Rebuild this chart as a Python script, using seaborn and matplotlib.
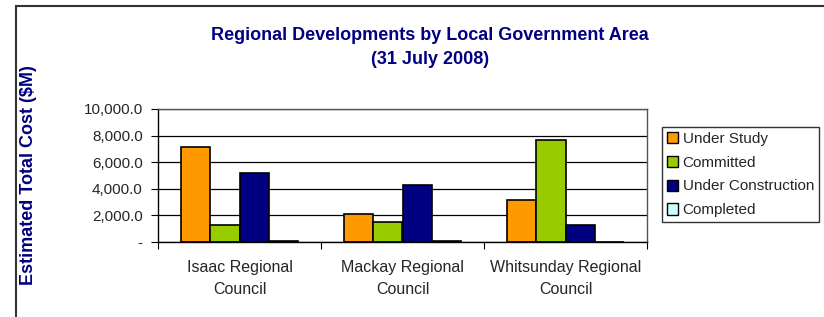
import pandas as pd
import numpy as np
import matplotlib
matplotlib.use('Agg')
import matplotlib.pyplot as plt
import seaborn as sns
from matplotlib.patches import Rectangle
from matplotlib.ticker import FuncFormatter

# data ($M)
councils = ['Isaac Regional\nCouncil', 'Mackay Regional\nCouncil', 'Whitsunday Regional\nCouncil']
statuses = ['Under Study', 'Committed', 'Under Construction', 'Completed']
under_study = [7150, 2070, 3130]
committed = [1250, 1520, 7680]
under_construction = [5180, 4260, 1270]
completed = [100, 50, 30]
colours = ['#FF9900', '#99CC00', '#000080', '#CCFFFF']

navy = '#000080'

rows = []
for status, vals in zip(statuses, [under_study, committed, under_construction, completed]):
    for council, v in zip(councils, vals):
        rows.append({'Council': council, 'Status': status, 'Cost': v})
df = pd.DataFrame(rows)

sns.set_style('white')
plt.rcParams['font.family'] = ['Liberation Sans', 'DejaVu Sans']

fig = plt.figure(figsize=(8.24, 3.17), dpi=100)
ax = fig.add_axes([158 / 824, 1 - 242 / 317, (647 - 158) / 824, (242 - 109) / 317])

sns.barplot(data=df, x='Council', y='Cost', hue='Status', hue_order=statuses,
            order=councils, palette=colours, width=0.72, gap=0,
            edgecolor='black', linewidth=1.2, saturation=1, ax=ax, legend=True)

ax.set_ylim(0, 10000)
ax.set_yticks(np.arange(0, 10001, 2000))
ax.yaxis.set_major_formatter(FuncFormatter(lambda v, p: '-' if v == 0 else f'{v:,.1f}'))
ax.yaxis.grid(True, color='black', linewidth=0.9)
ax.set_axisbelow(True)
for s in ax.spines.values():
    s.set_visible(True)
    s.set_color('#555555')
    s.set_linewidth(1)
ax.spines['left'].set_color('black')
ax.spines['bottom'].set_color('black')

# category ticks at boundaries
ax.set_xticks([-0.5, 0.5, 1.5, 2.5], minor=False)
ax.set_xticklabels([])
ax.set_xticks([0, 1, 2], minor=True)
ax.set_xticklabels(councils, minor=True, fontsize=11.5, linespacing=1.55)
ax.tick_params(axis='x', which='major', length=5, direction='out', bottom=True, color='black')
ax.tick_params(axis='x', which='minor', length=0, pad=13)
ax.tick_params(axis='y', length=5, direction='out', left=True, labelsize=11, color='black', pad=6)
ax.set_xlim(-0.5, 2.5)
ax.set_xlabel('')
ax.set_ylabel('')

ax.get_legend().remove()
handles = [Rectangle((0, 0), 1, 1, facecolor=c, edgecolor='black', linewidth=1) for c in colours]
leg = fig.legend(handles, statuses, loc='upper left', bbox_to_anchor=(662 / 824, 1 - 127 / 317),
                 borderaxespad=0, fontsize=11, frameon=True, fancybox=False,
                 handlelength=0.75, handleheight=0.75, handletextpad=0.3,
                 labelspacing=0.65, borderpad=0.3)
leg.get_frame().set_edgecolor('black')
leg.get_frame().set_linewidth(1)

fig.text(430 / 824, 1 - 35 / 317, 'Regional Developments by Local Government Area',
         ha='center', va='center', fontsize=13, fontweight='bold', color=navy)
fig.text(430 / 824, 1 - 60 / 317, '(31 July 2008)',
         ha='center', va='center', fontsize=13, fontweight='bold', color=navy)
fig.text(29 / 824, 1 - 175 / 317, 'Estimated Total Cost ($M)', rotation=90,
         ha='center', va='center', fontsize=13, fontweight='bold', color=navy)

# outer chart frame (only top and left visible in the crop)
fig.add_artist(Rectangle((16 / 824, -0.2), 2, 1.2 - 6 / 317, fill=False,
                         edgecolor='#333333', linewidth=1.5, transform=fig.transFigure))

plt.savefig('out.png', dpi=100)
